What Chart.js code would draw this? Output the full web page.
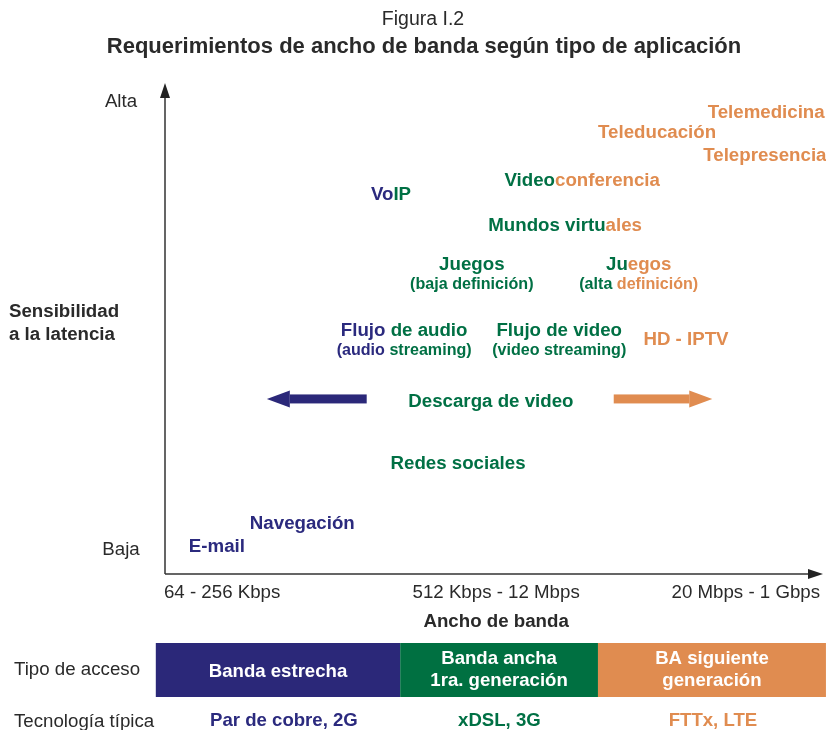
<!DOCTYPE html>
<html><head><meta charset="utf-8">
<script src="https://cdn.jsdelivr.net/npm/chart.js@4"></script>
<style>html,body{margin:0;padding:0;background:#fff}</style>
</head><body>
<canvas id="c" width="826" height="730"></canvas>
<script>
// ---- data ----
// tiers: 0 = Banda estrecha, 1 = Banda ancha 1ra. generación, 2 = BA siguiente generación
const appLines = [
  [[["Telemedicina",2]]],
  [[["Teleducación",2]]],
  [[["Telepresencia",2]]],
  [[["Video",1],["conferencia",2]]],
  [[["Vo",0],["IP",1]]],
  [[["Mundos virtu",1],["ales",2]]],
  [[["Juegos",1]],[["(baja definición)",1]]],
  [[["Ju",1],["egos",2]],[["(alta ",1],["definición)",2]]],
  [[["Flujo",0],[" de audio",1]],[["(audio",0],[" streaming)",1]]],
  [[["Flujo de video",1]],[["(video streaming)",1]]],
  [[["HD - IPTV",2]]],
  [[["Descarga de video",1]]],
  [[["Redes sociales",1]]],
  [[["Navegación",0]]],
  [[["E-mail",0]]]
];
const appBandwidth = [91.5, 74.9, 91.3, 63.5, 34.4, 60.9, 46.7, 72.1, 36.4, 60.0, 79.3, 49.6, 44.6, 20.9, 7.9];
const appLatency   = [94.7, 90.6, 85.9, 80.8, 77.9, 71.6, 63.6, 63.6, 50.1, 50.1, 48.1, 35.6, 22.9, 10.6, 5.9];
const arrowFrom = [30.7, 68.3];
const arrowTo   = [15.5, 83.3];
const arrowLevel = [35.8, 35.8];
const arrowTier = [0, 2];
const xTickLabels = ["64 - 256 Kbps", "512 Kbps - 12 Mbps", "20 Mbps - 1 Gbps"];
const xTickValues = [8.7, 50.4, 88.4];
const yTickLabels = ["Baja", "Alta"];
const yTickValues = [5.3, 96.9];
const accessTypes = [["Banda estrecha"], ["Banda ancha", "1ra. generación"], ["BA siguiente", "generación"]];
const accessBounds = [-1.4, 35.8, 65.9, 100.6];
const typicalTech = ["Par de cobre, 2G", "xDSL, 3G", "FTTx, LTE"];
const techCenters = [18.1, 50.9, 83.4];

// ---- styles ----
const tierColors = ["#2B2A7E", "#007044", "#E08C50"];
const bandColors = ["#2B2879", "#007041", "#E08C50"];
const FAM = '"Liberation Sans", Arial, Helvetica, sans-serif';
const fBold = s => 'bold ' + s + 'px ' + FAM;
const fReg = s => s + 'px ' + FAM;

function drawSegments(ctx, segs, cx, cy, font) {
  ctx.font = font;
  ctx.textBaseline = 'middle';
  ctx.textAlign = 'left';
  let w = 0;
  segs.forEach(s => { w += ctx.measureText(s[0]).width; });
  let x = cx - w / 2;
  segs.forEach(s => {
    ctx.fillStyle = tierColors[s[1]];
    ctx.fillText(s[0], x, cy);
    x += ctx.measureText(s[0]).width;
  });
}

const drawPlugin = {
  id: 'drawPlugin',
  afterDatasetsDraw(chart) {
    const ctx = chart.ctx;
    const xs = chart.scales.x, ys = chart.scales.y;
    const X = v => xs.getPixelForValue(v), Y = v => ys.getPixelForValue(v);
    ctx.save();

    // ---- shapes ----
    const x0 = X(0), y0 = Y(0), xTop = Y(100), xEnd = X(100);
    ctx.strokeStyle = '#333'; ctx.fillStyle = '#222'; ctx.lineWidth = 1.5;
    ctx.beginPath();
    ctx.moveTo(x0, y0); ctx.lineTo(x0, xTop + 10);
    ctx.moveTo(x0, y0); ctx.lineTo(xEnd - 10, y0);
    ctx.stroke();
    ctx.beginPath();
    ctx.moveTo(x0, xTop - 2); ctx.lineTo(x0 - 5, xTop + 13); ctx.lineTo(x0 + 5, xTop + 13); ctx.closePath(); ctx.fill();
    ctx.beginPath();
    ctx.moveTo(xEnd + 1, y0); ctx.lineTo(xEnd - 14, y0 - 5); ctx.lineTo(xEnd - 14, y0 + 5); ctx.closePath(); ctx.fill();

    arrowFrom.forEach((f, i) => {
      const xa = X(f), xb = X(arrowTo[i]), yy = Y(arrowLevel[i]);
      const dir = xb > xa ? 1 : -1;
      const headBase = xb - dir * 23;
      ctx.fillStyle = bandColors[arrowTier[i]];
      ctx.fillRect(Math.min(xa, headBase), yy - 4.5, Math.abs(headBase - xa), 9);
      ctx.beginPath();
      ctx.moveTo(xb, yy); ctx.lineTo(headBase, yy - 8.5); ctx.lineTo(headBase, yy + 8.5); ctx.closePath(); ctx.fill();
    });

    const bTop = 643, bBot = 697;
    accessBounds.slice(0, -1).forEach((v, i) => {
      const a = X(v), b = X(accessBounds[i + 1]);
      ctx.fillStyle = bandColors[i];
      ctx.fillRect(a, bTop, b - a, bBot - bTop);
    });

    // ---- text ----
    ctx.translate(0, 1.5);
    ctx.fillStyle = '#2a2a2a';
    ctx.textAlign = 'center'; ctx.textBaseline = 'middle';
    ctx.font = '300 19.5px ' + FAM;
    ctx.fillText('Figura I.2', 423, 18);
    ctx.font = fBold(22);
    ctx.fillText('Requerimientos de ancho de banda según tipo de aplicación', 424, 45);

    ctx.font = fReg(18.7);
    xTickLabels.forEach((t, i) => ctx.fillText(t, X(xTickValues[i]), y0 + 17));
    yTickLabels.forEach((t, i) => ctx.fillText(t, 121, Y(yTickValues[i])));
    ctx.font = fBold(18.7);
    ctx.fillText('Ancho de banda', X(50.4), y0 + 46);
    ctx.textAlign = 'left';
    ctx.fillText('Sensibilidad', 9, 310);
    ctx.fillText('a la latencia', 9, 333);

    appLines.forEach((lines, i) => {
      const cx = X(appBandwidth[i]), cy = Y(appLatency[i]);
      lines.forEach((segs, j) => {
        drawSegments(ctx, segs, cx, cy + j * 20.5, j === 0 ? fBold(18.7) : fBold(16.1));
      });
    });

    ctx.fillStyle = '#2a2a2a';
    ctx.font = fReg(18.7); ctx.textAlign = 'left'; ctx.textBaseline = 'middle';
    ctx.fillText('Tipo de acceso', 14, 668);
    ctx.fillText('Tecnología típica', 14, 720);
    accessTypes.forEach((lines, i) => {
      const a = X(accessBounds[i]), b = X(accessBounds[i + 1]);
      ctx.fillStyle = '#ffffff';
      ctx.font = fBold(18.6); ctx.textAlign = 'center';
      const cx = (a + b) / 2;
      if (lines.length === 1) ctx.fillText(lines[0], cx, (bTop + bBot) / 2);
      else { ctx.fillText(lines[0], cx, 657); ctx.fillText(lines[1], cx, 679); }
      ctx.fillStyle = tierColors[i];
      ctx.fillText(typicalTech[i], X(techCenters[i]), 719);
    });
    ctx.restore();
  }
};

new Chart(document.getElementById('c'), {
  type: 'scatter',
  data: { datasets: [{ data: appBandwidth.map((x, i) => ({ x: x, y: appLatency[i] })), pointRadius: 0, pointHoverRadius: 0 }] },
  options: {
    responsive: false, animation: false,
    layout: { padding: { left: 165, right: 4, top: 85, bottom: 156 } },
    scales: {
      x: { type: 'linear', min: 0, max: 100, display: false },
      y: { type: 'linear', min: 0, max: 100, display: false }
    },
    plugins: { legend: { display: false }, tooltip: { enabled: false }, title: { display: false } }
  },
  plugins: [drawPlugin]
});
</script>
</body></html>
